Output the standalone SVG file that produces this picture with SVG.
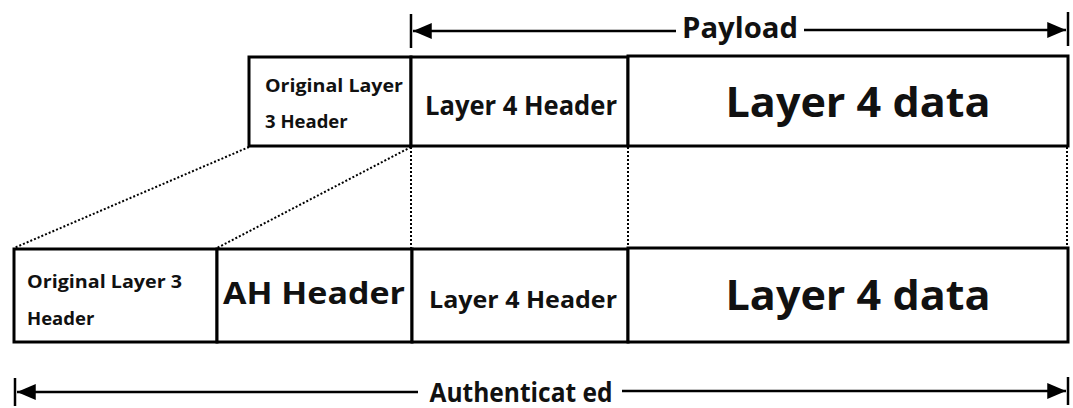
<svg xmlns="http://www.w3.org/2000/svg" width="1073" height="408" viewBox="0 0 1073 408">
<style>
.box{fill:#fff;stroke:#000;stroke-width:3}
.dot{stroke:#000;stroke-width:2;stroke-dasharray:2 2;fill:none}
.arr{stroke:#000;stroke-width:2.5;fill:none}
.tick{stroke:#000;stroke-width:2.5}
text{font-family:"Open Sans","DejaVu Sans",sans-serif;font-weight:700;fill:#111}
</style>
<defs>
<marker id="ah" viewBox="0 0 10 10" refX="10" refY="5" markerWidth="7.5" markerHeight="6.4" markerUnits="strokeWidth" orient="auto-start-reverse" preserveAspectRatio="none">
<path d="M0,0 L10,5 L0,10 z" fill="#000"/>
</marker>
</defs>
<rect width="1073" height="408" fill="#fff"/>
<g id="connectors">
<line class="dot" x1="249" y1="147" x2="14" y2="248"/>
<line class="dot" x1="411" y1="147" x2="217" y2="248"/>
<line class="dot" x1="411" y1="147" x2="411" y2="248"/>
<line class="dot" x1="628" y1="147" x2="628" y2="248"/>
<line class="dot" x1="1067" y1="147" x2="1067" y2="248"/>
</g>
<g id="payload">
<line class="tick" x1="411" y1="14" x2="411" y2="48"/>
<line class="tick" x1="1068" y1="12" x2="1068" y2="46"/>
<line class="arr" x1="676" y1="31" x2="413" y2="31" marker-end="url(#ah)"/>
<line class="arr" x1="804" y1="30" x2="1066" y2="30" marker-end="url(#ah)"/>
<text x="740" y="38" font-size="28" text-anchor="middle" textLength="116" lengthAdjust="spacingAndGlyphs">Payload</text>
</g>
<g id="top-l3">
<rect class="box" x="249" y="57" width="162" height="89"/>
<text x="265" y="92" font-size="18.5" textLength="138" lengthAdjust="spacingAndGlyphs">Original Layer</text>
<text x="265" y="128" font-size="18.5">3 Header</text>
</g>
<g id="top-l4h">
<rect class="box" x="411" y="57" width="217" height="89"/>
<text x="521" y="115" font-size="26" text-anchor="middle" textLength="192" lengthAdjust="spacingAndGlyphs">Layer 4 Header</text>
</g>
<g id="top-l4d">
<rect class="box" x="628" y="56" width="440" height="90"/>
<text x="858" y="117" font-size="42" text-anchor="middle" textLength="265" lengthAdjust="spacingAndGlyphs">Layer 4 data</text>
</g>
<g id="bot-l3">
<rect class="box" x="14" y="249" width="203" height="93"/>
<text x="27" y="288" font-size="18.5" textLength="155" lengthAdjust="spacingAndGlyphs">Original Layer 3</text>
<text x="27" y="325" font-size="18.5">Header</text>
</g>
<g id="bot-ah">
<rect class="box" x="217" y="249" width="195" height="93"/>
<text x="314" y="304" font-size="31" text-anchor="middle" textLength="182" lengthAdjust="spacingAndGlyphs">AH Header</text>
</g>
<g id="bot-l4h">
<rect class="box" x="412" y="249" width="216" height="93"/>
<text x="523" y="308" font-size="24" text-anchor="middle" textLength="188" lengthAdjust="spacingAndGlyphs">Layer 4 Header</text>
</g>
<g id="bot-l4d">
<rect class="box" x="628" y="248" width="440" height="94"/>
<text x="858" y="310" font-size="42" text-anchor="middle" textLength="265" lengthAdjust="spacingAndGlyphs">Layer 4 data</text>
</g>
<g id="authenticated">
<line class="tick" x1="15" y1="378" x2="15" y2="406"/>
<line class="tick" x1="1068" y1="377" x2="1068" y2="405"/>
<line class="arr" x1="418" y1="392" x2="17" y2="392" marker-end="url(#ah)"/>
<line class="arr" x1="622" y1="391" x2="1066" y2="391" marker-end="url(#ah)"/>
<text x="521" y="402" font-size="26" text-anchor="middle" textLength="183" lengthAdjust="spacingAndGlyphs">Authenticat ed</text>
</g>
</svg>
